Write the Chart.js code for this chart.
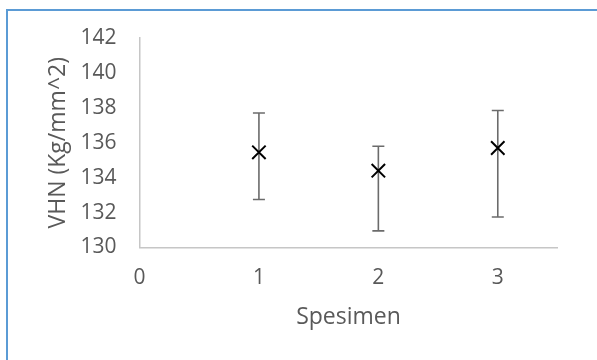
<!DOCTYPE html>
<html>
<head>
<meta charset="utf-8">
<script src="https://cdn.jsdelivr.net/npm/chart.js@4/dist/chart.umd.min.js"></script>
<style>
  html, body { margin: 0; padding: 0; background: #fff; overflow: hidden; }
  #wrap { position: relative; width: 597px; height: 360px; }
  #frame {
    position: absolute; left: 6px; top: 9px; width: 700px; height: 500px;
    border-left: 2px solid #5b9bd5; border-top: 2px solid #5b9bd5;
  }
  canvas { position: absolute; left: 0; top: 0; }
</style>
</head>
<body>
<div id="wrap">
  <div id="frame"></div>
  <canvas id="chart" width="597" height="360"></canvas>
</div>
<script>
// data
const specimens = [1, 2, 3];
const hardness = [135.45, 134.4, 135.7];
const errLow = [132.75, 130.95, 131.75];
const errHigh = [137.7, 135.8, 137.85];
const xTicks = [0, 1, 2, 3];

const axisFont = { family: 'Open Sans', size: 21 };
const titleFont = { family: 'Open Sans', size: 23 };
const grey = '#595959';
const barColor = '#6b6b6b';

const datasets = [{
  label: 'VHN',
  data: specimens.map((s, i) => ({ x: s, y: hardness[i] })),
  showLine: false,
  pointStyle: 'crossRot',
  pointRadius: 9.5,
  pointBorderWidth: 2,
  pointBorderColor: '#000',
  pointBackgroundColor: '#000'
}];

// error bars: a two point line per specimen, caps via 'line' point style
specimens.forEach((s, i) => {
  datasets.push({
    label: 'err' + s,
    data: [{ x: s, y: errLow[i] }, { x: s, y: errHigh[i] }],
    showLine: true,
    borderColor: barColor,
    borderWidth: 1.6,
    pointStyle: 'line',
    pointRadius: 6,
    pointBorderWidth: 1.6,
    pointBorderColor: barColor
  });
});

new Chart(document.getElementById('chart'), {
  type: 'scatter',
  data: { datasets },
  options: {
    responsive: false,
    animation: false,
    events: [],
    layout: { padding: { top: 38, right: 39.5, left: 0, bottom: 0 } },
    plugins: { legend: { display: false }, tooltip: { enabled: false } },
    scales: {
      x: {
        type: 'linear',
        min: 0,
        max: 3.5,
        grid: { display: false, drawTicks: false },
        border: { display: true, color: '#c6c6c6', width: 1.5 },
        afterBuildTicks: (scale) => { scale.ticks = xTicks.map(v => ({ value: v })); },
        afterFit: (scale) => { scale.height = 112.5; },
        ticks: { color: grey, font: axisFont, padding: 18 },
        title: { display: true, text: 'Spesimen', color: grey, font: titleFont, padding: { top: 0, bottom: 29 } }
      },
      y: {
        min: 130,
        max: 142,
        grid: { display: false, drawTicks: false },
        border: { display: true, color: '#c6c6c6', width: 1.5 },
        afterFit: (scale) => { scale.width = 139.5; },
        ticks: { stepSize: 2, color: grey, font: axisFont, padding: 23 },
        title: { display: true, text: 'VHN (Kg/mm^2)', color: grey, font: titleFont, padding: { top: 45, bottom: 0 } }
      }
    }
  }
});
</script>
</body>
</html>
